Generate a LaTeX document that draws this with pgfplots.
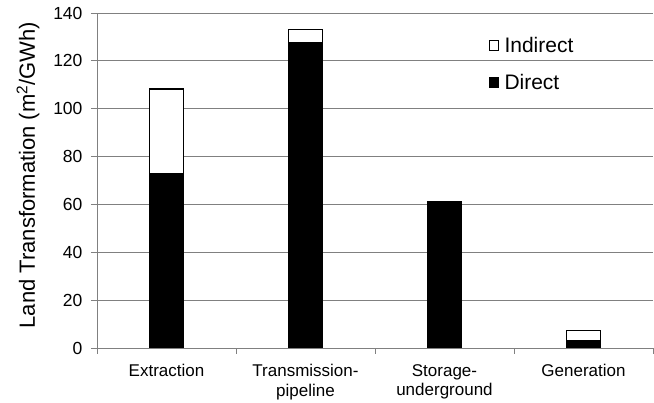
\documentclass[border=0pt]{standalone}
\usepackage{pgfplots}
\pgfplotsset{compat=1.18}
\usepackage{fontspec}
\setmainfont{Liberation Sans}
\definecolor{gridgray}{HTML}{808080}
\begin{document}
\begin{tikzpicture}
\begin{axis}[
  scale only axis,
  width=556pt, height=335pt,
  xmin=-0.5, xmax=3.5,
  ymin=0, ymax=140,
  ytick={0,20,...,140},
  xtick={0,1,2,3},
  xticklabels={Extraction,Transmission-\\pipeline,Storage-\\underground,Generation},
  minor xtick={-0.5,0.5,1.5,2.5,3.5},
  major x tick style={draw=none},
  minor tick length=6pt,
  major tick length=6pt,
  tick align=outside,
  axis x line*=bottom,
  axis y line*=left,
  axis line style={gridgray, line width=0.9pt, -},
  tick style={gridgray, line width=0.9pt},
  ymajorgrids,
  grid style={gridgray, line width=0.9pt},
  /pgf/number format/assume math mode=true,
  yticklabel style={font=\fontsize{17.5}{20}\selectfont, xshift=-5pt},
  xticklabel style={font=\fontsize{17}{19.5}\selectfont, align=center, yshift=-7pt},
  ylabel={Land Transformation (m\textsuperscript{2}/GWh)},
  every axis y label/.style={at={(axis description cs:-0.124,0.516)}, rotate=90, anchor=center, font=\fontsize{22}{25}\selectfont},
  ybar stacked,
  bar width=34pt,
  reverse legend,
  legend cell align=left,
  legend style={draw=none, fill=none, at={(axis description cs:0.70,0.94)}, anchor=north west,
    font=\fontsize{21}{24}\selectfont, row sep=16pt},
  legend image code/.code={\draw[#1, line width=1pt] (0pt,-5pt) rectangle (9pt,5pt); \path (12pt,0pt);},
]
\addplot[fill=black, draw=black, line width=1pt] coordinates {(0,73) (1,127.8) (2,61.3) (3,2.9)};
\addlegendentry{Direct}
\addplot[fill=white, draw=black, line width=1.2pt] coordinates {(0,35.2) (1,5.4) (2,0) (3,4.3)};
\addlegendentry{Indirect}
\end{axis}
\pgfresetboundingbox
\path (current axis.south west) ++(-97pt,-55pt) coordinate (bl);
\path (current axis.north east) ++(1pt,13pt) coordinate (tr);
\path (bl) rectangle (tr);
\end{tikzpicture}
\end{document}
